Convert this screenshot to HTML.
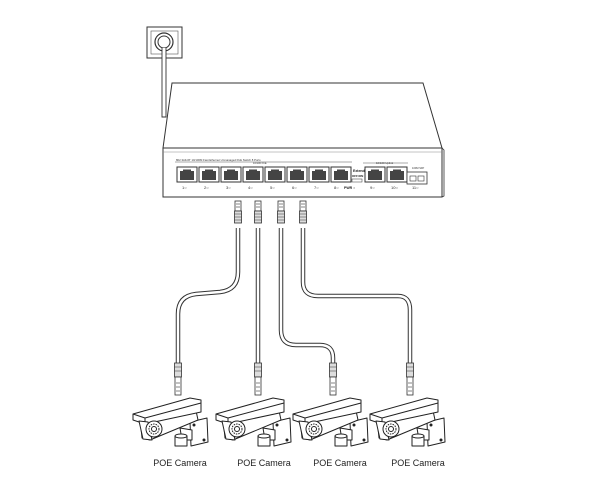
<!DOCTYPE html>
<html><head><style>
html,body{margin:0;padding:0;background:#fff;}
svg{display:block}
text{font-family:"Liberation Sans",sans-serif;}
</style></head><body>
<svg width="600" height="500" viewBox="0 0 600 500" xmlns="http://www.w3.org/2000/svg">
<defs>
<g id="port">
<rect x="0" y="0" width="20" height="15" fill="#fff" stroke="#333" stroke-width="1"/>
<rect x="3" y="4" width="14" height="9" fill="#444"/>
<rect x="6" y="2.5" width="8" height="2" fill="#444"/>
</g>
<g id="conn">
<rect x="-3" y="0" width="6" height="10" fill="#fff" stroke="#333" stroke-width="0.8"/>
<line x1="-2" y1="3" x2="2" y2="3" stroke="#333" stroke-width="0.6"/>
<line x1="-2" y1="6" x2="2" y2="6" stroke="#333" stroke-width="0.6"/>
<rect x="-3.5" y="10" width="7" height="12" fill="#ddd" stroke="#333" stroke-width="0.8"/>
<line x1="-3.5" y1="13" x2="3.5" y2="13" stroke="#333" stroke-width="0.5"/>
<line x1="-3.5" y1="16" x2="3.5" y2="16" stroke="#333" stroke-width="0.5"/>
<line x1="-3.5" y1="19" x2="3.5" y2="19" stroke="#333" stroke-width="0.5"/>
</g>
<g id="conn2">
<rect x="-3.5" y="0" width="7" height="14" fill="#ddd" stroke="#333" stroke-width="0.8"/>
<line x1="-3.5" y1="4" x2="3.5" y2="4" stroke="#333" stroke-width="0.5"/>
<line x1="-3.5" y1="8" x2="3.5" y2="8" stroke="#333" stroke-width="0.5"/>
<rect x="-3" y="14" width="6" height="18" fill="#fff" stroke="#333" stroke-width="0.8"/>
<line x1="-2" y1="20" x2="2" y2="20" stroke="#333" stroke-width="0.6"/>
<line x1="-2" y1="24" x2="2" y2="24" stroke="#333" stroke-width="0.6"/>
<line x1="-2" y1="28" x2="2" y2="28" stroke="#333" stroke-width="0.6"/>
</g>
<g id="cam" fill="#fff" stroke="#222" stroke-width="1" stroke-linejoin="round">
<path d="M190 422 L207 418 L208 442 L191 446 Z"/>
<circle cx="194" cy="425" r="1" fill="#222"/><circle cx="204" cy="440" r="1" fill="#222"/>
<path d="M180 428 L192 430 L192 440 L182 440 Z"/>
<path d="M175 436 h12 v10 h-12 Z"/>
<ellipse cx="181" cy="436" rx="6" ry="2"/>
<path d="M140 418 L195 406 L198 420 L150 440 L142 438 Z"/>
<path d="M133 414 L190 398 L201 400 L201 412 L145 424 L133 420 Z"/>
<line x1="133" y1="414" x2="145" y2="418"/>
<line x1="145" y1="418" x2="201" y2="403"/>
<line x1="145" y1="418" x2="145" y2="424"/>
<path d="M139 421 L148 422 L152 440 L143 439 Z"/>
<circle cx="154" cy="429" r="8"/>
<circle cx="154" cy="429" r="5" stroke-dasharray="1.5 1"/>
<circle cx="154" cy="429" r="2.5"/>
</g>
</defs>

<rect x="147" y="27" width="35" height="31" fill="#fff" stroke="#333" stroke-width="1"/>
<rect x="151" y="31" width="27" height="23" fill="#fff" stroke="#555" stroke-width="0.6"/>
<circle cx="164" cy="42" r="9" fill="#fff" stroke="#333" stroke-width="1.2"/>
<circle cx="164" cy="42" r="6" fill="#fff" stroke="#333" stroke-width="1"/>
<path d="M162 48 L162 117 L166 117 L166 48" fill="#fff" stroke="#333" stroke-width="0.9"/>

<path d="M172 83 L423 83 L442 148 L163 148 Z" fill="#fff" stroke="#333" stroke-width="1"/>
<rect x="163" y="148" width="279" height="49" fill="#fff" stroke="#333" stroke-width="1"/>
<path d="M442 148 L444 150 L444 196 L442 197" fill="none" stroke="#333" stroke-width="0.8"/>
<line x1="163" y1="152" x2="442" y2="152" stroke="#888" stroke-width="0.5"/>
<line x1="175" y1="162" x2="352" y2="162" stroke="#555" stroke-width="0.5"/>
<text x="176" y="161" font-size="2.8" fill="#333">802.3AF/AT 10/100M Fast Ethernet Unmanaged PoE Switch 8 Ports</text>
<text x="253" y="164" font-size="2.6" fill="#333">10/100 PoE</text>
<use href="#port" x="177" y="167"/><use href="#port" x="199" y="167"/>
<use href="#port" x="221" y="167"/><use href="#port" x="243" y="167"/>
<use href="#port" x="265" y="167"/><use href="#port" x="287" y="167"/>
<use href="#port" x="309" y="167"/><use href="#port" x="331" y="167"/>
<use href="#port" x="365" y="167"/><use href="#port" x="387" y="167"/>
<line x1="363" y1="163" x2="408" y2="163" stroke="#555" stroke-width="0.5"/>
<text x="376" y="164" font-size="2.8" fill="#333">10/100 Uplink</text>
<text x="412" y="169" font-size="2.6" fill="#333">100M SFP</text>
<rect x="407" y="172" width="20" height="12" fill="#fff" stroke="#333" stroke-width="0.8"/>
<rect x="410" y="176" width="6" height="5" fill="#fff" stroke="#333" stroke-width="0.6"/>
<rect x="418" y="176" width="6" height="5" fill="#fff" stroke="#333" stroke-width="0.6"/>
<text x="353" y="172" font-size="3.5" fill="#222" font-weight="bold">Extend</text>
<text x="352" y="177" font-size="3" fill="#222" font-weight="bold">OFF/ON</text>
<rect x="352" y="179" width="10" height="3" fill="#fff" stroke="#333" stroke-width="0.5"/>
<text x="344" y="189" font-size="3.5" fill="#222" font-weight="bold">PWR ○</text>
<g font-size="4" fill="#333">
<text x="182" y="189">1○</text><text x="204" y="189">2○</text><text x="226" y="189">3○</text><text x="248" y="189">4○</text>
<text x="270" y="189">5○</text><text x="292" y="189">6○</text><text x="314" y="189">7○</text><text x="334" y="189">8○</text>
<text x="370" y="189">9○</text><text x="391" y="189">10○</text><text x="412" y="189">11○</text>
</g>

<g fill="none" stroke="#333" stroke-width="4.5" stroke-linejoin="round">
<path d="M238 228 L238 272 Q238 290 220 292 L196 294 Q178 296 178 314 L178 365"/>
<path d="M258 228 L258 365"/>
<path d="M281 228 L281 330 Q281 345 296 345 L320 345 Q333 345 333 358 L333 365"/>
<path d="M303 228 L303 282 Q303 296 318 296 L398 296 Q410 296 410 310 L410 365"/>
</g>
<g fill="none" stroke="#fff" stroke-width="2.5" stroke-linejoin="round">
<path d="M238 228 L238 272 Q238 290 220 292 L196 294 Q178 296 178 314 L178 365"/>
<path d="M258 228 L258 365"/>
<path d="M281 228 L281 330 Q281 345 296 345 L320 345 Q333 345 333 358 L333 365"/>
<path d="M303 228 L303 282 Q303 296 318 296 L398 296 Q410 296 410 310 L410 365"/>
</g>
<use href="#conn" x="238" y="201"/><use href="#conn" x="258" y="201"/>
<use href="#conn" x="281" y="201"/><use href="#conn" x="303" y="201"/>
<use href="#conn2" x="178" y="363"/><use href="#conn2" x="258" y="363"/>
<use href="#conn2" x="333" y="363"/><use href="#conn2" x="410" y="363"/>

<use href="#cam" x="0" y="0"/>
<use href="#cam" x="83" y="0"/>
<use href="#cam" x="160" y="0"/>
<use href="#cam" x="237" y="0"/>

<g font-size="9" fill="#222" text-anchor="middle">
<text x="180" y="466">POE Camera</text>
<text x="264" y="466">POE Camera</text>
<text x="340" y="466">POE Camera</text>
<text x="418" y="466">POE Camera</text>
</g>
</svg>
</body></html>
